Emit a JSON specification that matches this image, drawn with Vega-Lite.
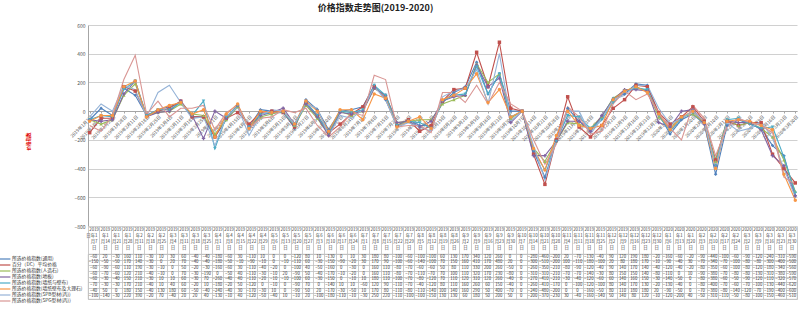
{
  "$schema": "https://vega.github.io/schema/vega-lite/v6.json",
  "autosize": {"type": "pad"},
  "padding": {"left": 2, "top": 4, "right": 0, "bottom": 0},
  "bounds": "flush",
  "spacing": 28,
  "title": {"text": "价格指数走势图(2019-2020)", "fontSize": 9, "fontWeight": "bold", "color": "#222", "anchor": "middle", "frame": "group", "dx": -67, "offset": 10, "font": "Noto Sans CJK SC"},
  "config": {"font": "Noto Sans CJK SC", "view": {"stroke": null}},
  "datasets": {
    "names": [
      {"key": "s1", "name": "所选价格指数(通用)"},
      {"key": "s2", "name": "百分（DC）平均价格"},
      {"key": "s3", "name": "所选价格指数(人造石)"},
      {"key": "s4", "name": "所选价格指数(地板)"},
      {"key": "s5", "name": "所选价格指数(墙纸与壁布)"},
      {"key": "s6", "name": "所选价格指数(墙纸壁布及大理石)"},
      {"key": "s7", "name": "所选价格指数(SPB型材(丙))"},
      {"key": "s8", "name": "所选价格指数(SPG型材(丙))"}
    ],
    "w": [
      {"d":"2019年1月7日","s1":-60,"s2":-150,"s3":-60,"s4":-60,"s5":-60,"s6":-70,"s7":-40,"s8":-100},
      {"d":"2019年1月14日","s1":20,"s2":-50,"s3":-90,"s4":-70,"s5":-30,"s6":-30,"s7":50,"s8":-140},
      {"d":"2019年1月21日","s1":-30,"s2":-50,"s3":-60,"s4":-60,"s5":-40,"s6":-30,"s7":0,"s8":-30},
      {"d":"2019年1月28日","s1":160,"s2":170,"s3":110,"s4":120,"s5":150,"s6":170,"s7":180,"s8":220},
      {"d":"2019年2月11日","s1":110,"s2":140,"s3":190,"s4":210,"s5":210,"s6":210,"s7":150,"s8":390},
      {"d":"2019年2月18日","s1":-30,"s2":-30,"s3":-30,"s4":-40,"s5":-30,"s6":-40,"s7":-40,"s8":-20},
      {"d":"2019年2月25日","s1":10,"s2":0,"s3":-10,"s4":-10,"s5":10,"s6":10,"s7":130,"s8":70},
      {"d":"2019年3月4日","s1":30,"s2":20,"s3":0,"s4":0,"s5":10,"s6":40,"s7":180,"s8":-40},
      {"d":"2019年3月11日","s1":60,"s2":70,"s3":50,"s4":70,"s5":60,"s6":60,"s7":60,"s8":20},
      {"d":"2019年3月18日","s1":-40,"s2":-40,"s3":-20,"s4":-30,"s5":-30,"s6":-20,"s7":-50,"s8":20},
      {"d":"2019年3月25日","s1":-40,"s2":-40,"s3":-30,"s4":-190,"s5":70,"s6":10,"s7":-40,"s8":40},
      {"d":"2019年4月1日","s1":-180,"s2":-180,"s3":-160,"s4":0,"s5":-260,"s6":-180,"s7":-240,"s8":-130},
      {"d":"2019年4月8日","s1":-60,"s2":-50,"s3":-60,"s4":-50,"s5":-40,"s6":-20,"s7":-40,"s8":-10},
      {"d":"2019年4月15日","s1":30,"s2":-10,"s3":30,"s4":40,"s5":40,"s6":50,"s7":30,"s8":40},
      {"d":"2019年4月22日","s1":-110,"s2":-90,"s3":-110,"s4":-110,"s5":-110,"s6":-120,"s7":-170,"s8":-120},
      {"d":"2019年4月29日","s1":10,"s2":-10,"s3":-40,"s4":-30,"s5":-20,"s6":0,"s7":-30,"s8":-50},
      {"d":"2019年5月6日","s1":0,"s2":0,"s3":-20,"s4":-10,"s5":-10,"s6":-10,"s7":10,"s8":-40},
      {"d":"2019年5月13日","s1":0,"s2":-10,"s3":0,"s4":20,"s5":-10,"s6":0,"s7":0,"s8":10},
      {"d":"2019年5月20日","s1":-120,"s2":-110,"s3":-100,"s4":-90,"s5":-100,"s6":-90,"s7":-90,"s8":-10},
      {"d":"2019年5月27日","s1":80,"s2":60,"s3":40,"s4":50,"s5":60,"s6":70,"s7":50,"s8":20},
      {"d":"2019年6月3日","s1":10,"s2":-30,"s3":-50,"s4":-40,"s5":-30,"s6":0,"s7":20,"s8":-100},
      {"d":"2019年6月10日","s1":-130,"s2":-150,"s3":-160,"s4":-170,"s5":-150,"s6":-140,"s7":-170,"s8":-180},
      {"d":"2019年6月17日","s1":0,"s2":-90,"s3":0,"s4":-10,"s5":0,"s6":10,"s7":-30,"s8":-110},
      {"d":"2019年6月24日","s1":10,"s2":-20,"s3":-30,"s4":-20,"s5":-10,"s6":10,"s7":-50,"s8":-10},
      {"d":"2019年7月1日","s1":30,"s2":30,"s3":0,"s4":0,"s5":10,"s6":-60,"s7":10,"s8":-30},
      {"d":"2019年7月8日","s1":180,"s2":170,"s3":160,"s4":160,"s5":180,"s6":120,"s7":170,"s8":250},
      {"d":"2019年7月15日","s1":80,"s2":90,"s3":110,"s4":110,"s5":110,"s6":90,"s7":80,"s8":220},
      {"d":"2019年7月22日","s1":-100,"s2":-100,"s3":-80,"s4":-80,"s5":-100,"s6":-110,"s7":-110,"s8":-110},
      {"d":"2019年7月29日","s1":-60,"s2":-60,"s3":-70,"s4":-70,"s5":-70,"s6":-70,"s7":-80,"s8":-100},
      {"d":"2019年8月5日","s1":-100,"s2":-140,"s3":-60,"s4":-110,"s5":-80,"s6":-40,"s7":-110,"s8":-100},
      {"d":"2019年8月12日","s1":-100,"s2":-100,"s3":-60,"s4":-70,"s5":-120,"s6":-120,"s7":-140,"s8":-150},
      {"d":"2019年8月19日","s1":60,"s2":70,"s3":50,"s4":70,"s5":70,"s6":80,"s7":100,"s8":130},
      {"d":"2019年8月26日","s1":130,"s2":150,"s3":80,"s4":100,"s5":110,"s6":110,"s7":140,"s8":130},
      {"d":"2019年9月2日","s1":170,"s2":160,"s3":110,"s4":110,"s5":120,"s6":160,"s7":160,"s8":60},
      {"d":"2019年9月9日","s1":340,"s2":410,"s3":330,"s4":320,"s5":310,"s6":260,"s7":290,"s8":180},
      {"d":"2019年9月16日","s1":120,"s2":170,"s3":200,"s4":170,"s5":120,"s6":60,"s7":50,"s8":50},
      {"d":"2019年9月23日","s1":260,"s2":480,"s3":260,"s4":230,"s5":260,"s6":150,"s7":400,"s8":200},
      {"d":"2019年9月30日","s1":0,"s2":20,"s3":-50,"s4":-80,"s5":-40,"s6":-40,"s7":-70,"s8":50},
      {"d":"2019年10月7日","s1":0,"s2":0,"s3":0,"s4":0,"s5":0,"s6":0,"s7":0,"s8":0},
      {"d":"2019年10月14日","s1":-280,"s2":-300,"s3":-260,"s4":-310,"s5":-270,"s6":-260,"s7":-240,"s8":-200},
      {"d":"2019年10月21日","s1":-460,"s2":-510,"s3":-350,"s4":-310,"s5":-410,"s6":-410,"s7":-480,"s8":-370},
      {"d":"2019年10月28日","s1":-200,"s2":-200,"s3":-210,"s4":-210,"s5":-210,"s6":-170,"s7":-200,"s8":-230},
      {"d":"2019年11月4日","s1":20,"s2":100,"s3":-80,"s4":-70,"s5":-30,"s6":0,"s7":0,"s8":30},
      {"d":"2019年11月11日","s1":-70,"s2":-110,"s3":-90,"s4":-70,"s5":-40,"s6":-100,"s7":0,"s8":-40},
      {"d":"2019年11月18日","s1":-130,"s2":-180,"s3":-120,"s4":-140,"s5":-120,"s6":-120,"s7":-160,"s8":-160},
      {"d":"2019年11月25日","s1":-40,"s2":-100,"s3":-40,"s4":-30,"s5":-60,"s6":-100,"s7":-50,"s8":-140},
      {"d":"2019年12月2日","s1":90,"s2":20,"s3":90,"s4":80,"s5":60,"s6":80,"s7":80,"s8":50},
      {"d":"2019年12月9日","s1":120,"s2":80,"s3":140,"s4":150,"s5":140,"s6":140,"s7":110,"s8":140},
      {"d":"2019年12月16日","s1":190,"s2":180,"s3":170,"s4":150,"s5":160,"s6":170,"s7":180,"s8":80},
      {"d":"2019年12月23日","s1":180,"s2":170,"s3":140,"s4":140,"s5":150,"s6":130,"s7":180,"s8":120},
      {"d":"2019年12月30日","s1":-20,"s2":-10,"s3":-40,"s4":-80,"s5":-30,"s6":-20,"s7":20,"s8":-10},
      {"d":"2020年1月6日","s1":-160,"s2":-90,"s3":-120,"s4":-110,"s5":-140,"s6":-130,"s7":-90,"s8":-120},
      {"d":"2020年1月13日","s1":-60,"s2":-40,"s3":-40,"s4":0,"s5":-50,"s6":-40,"s7":-50,"s8":-200},
      {"d":"2020年1月20日","s1":-20,"s2":30,"s3":-20,"s4":10,"s5":0,"s6":0,"s7":0,"s8":40},
      {"d":"2020年2月3日","s1":-90,"s2":-70,"s3":-80,"s4":-90,"s5":-80,"s6":-80,"s7":-70,"s8":-50},
      {"d":"2020年2月10日","s1":-440,"s2":-340,"s3":-350,"s4":-380,"s5":-380,"s6":-400,"s7":-380,"s8":-310},
      {"d":"2020年2月17日","s1":-100,"s2":-70,"s3":-60,"s4":-70,"s5":-60,"s6":-70,"s7":-80,"s8":-110},
      {"d":"2020年2月24日","s1":-60,"s2":-100,"s3":-100,"s4":-80,"s5":-50,"s6":-60,"s7":-140,"s8":-50},
      {"d":"2020年3月2日","s1":-90,"s2":-80,"s3":-80,"s4":-80,"s5":-90,"s6":-70,"s7":-120,"s8":-80},
      {"d":"2020年3月9日","s1":-120,"s2":-80,"s3":-120,"s4":-130,"s5":-120,"s6":-100,"s7":-70,"s8":-100},
      {"d":"2020年3月16日","s1":-240,"s2":-300,"s3":-180,"s4":-310,"s5":-110,"s6":-130,"s7":-190,"s8":-150},
      {"d":"2020年3月23日","s1":-310,"s2":-400,"s3":-340,"s4":-380,"s5":-320,"s6":-440,"s7":-400,"s8":-460},
      {"d":"2020年3月30日","s1":-590,"s2":-500,"s3":-560,"s4":-590,"s5":-570,"s6":-620,"s7":-600,"s8":-510}
    ]
  },
  "data": {"name": "w"},
  "transform": [
    {"fold": ["s1", "s2", "s3", "s4", "s5", "s6", "s7", "s8"], "as": ["key", "v"]},
    {"lookup": "key", "from": {"data": {"name": "names"}, "key": "key", "fields": ["name"]}}
  ],
  "vconcat": [
    {
      "width": 709,
      "height": 201,
      "encoding": {
        "x": {"field": "d", "type": "ordinal", "sort": null, "scale": {"type": "point", "padding": 0.15},
          "axis": {"title": null, "labelAngle": -45, "labelFontSize": 4.6, "labelColor": "#555", "offset": -115, "domainColor": "#A6A6A6", "tickColor": "#A6A6A6", "tickSize": 2, "labelOverlap": false, "labelPadding": 1, "grid": false}},
        "y": {"field": "v", "type": "quantitative", "scale": {"domain": [-800, 600], "nice": false},
          "axis": {"values": [-800, -600, -400, -200, 0, 200, 400, 600], "labelOverlap": false, "grid": true, "gridColor": "#C4C4C4", "gridWidth": 0.8, "domain": true, "domainColor": "#A6A6A6", "ticks": false, "labelFontSize": 5, "labelColor": "#555", "labelPadding": 3, "title": "价格指数", "titleColor": "#E00000", "titleFontSize": 4.5, "titleFontWeight": "bold", "titleX": -58, "titleY": 116}},
        "color": {"field": "name", "type": "nominal",
          "scale": {"domain": ["所选价格指数(通用)", "百分（DC）平均价格", "所选价格指数(人造石)", "所选价格指数(地板)", "所选价格指数(墙纸与壁布)", "所选价格指数(墙纸壁布及大理石)", "所选价格指数(SPB型材(丙))", "所选价格指数(SPG型材(丙))"],
            "range": ["#4F81BD", "#C0504D", "#9BBB59", "#8064A2", "#4BACC6", "#F79646", "#95B3D7", "#D99694"]},
          "legend": {"orient": "none", "legendX": -86, "legendY": 231, "title": null, "symbolType": "M-2.7,0H2.7", "symbolSize": 16, "symbolStrokeWidth": 1.2, "labelFontSize": 4.8, "labelColor": "#333", "labelLimit": 80, "rowPadding": -0.4, "labelOffset": 4, "padding": 0}}
      },
      "layer": [
        {
          "mark": {"type": "line", "strokeWidth": 1.1},
          "encoding": {"order": {"value": null}}
        },
        {
          "transform": [{"filter": {"field": "key", "oneOf": ["s1", "s2", "s3", "s4", "s5", "s6"]}}],
          "mark": {"type": "point", "filled": true, "size": 12, "opacity": 1},
          "encoding": {
            "shape": {"field": "key", "type": "nominal", "scale": {"domain": ["s1", "s2", "s3", "s4", "s5", "s6"], "range": ["diamond", "square", "triangle-up", "cross", "triangle-down", "circle"]}, "legend": null}
          }
        }
      ]
    },
    {
      "width": 709,
      "height": 45,
      "view": {"stroke": "#BFBFBF", "strokeWidth": 0.8},
      "mark": {"type": "text", "fontSize": 4.3, "color": "#333"},
      "encoding": {
        "x": {"field": "d", "type": "ordinal", "sort": null, "scale": {"type": "band", "paddingInner": 0, "paddingOuter": 0},
          "axis": {"orient": "top", "title": null, "labelAngle": 0, "labelExpr": "[substring(datum.label,0,4), substring(datum.label,4,indexof(datum.label,'月')), substring(datum.label,indexof(datum.label,'月'),length(datum.label)-1), '日']", "labelFontSize": 4.4, "labelLineHeight": 6.2, "labelColor": "#444", "labelBaseline": "top", "tickBand": "extent", "tickSize": 28, "tickColor": "#BFBFBF", "tickWidth": 0.8, "domainColor": "#BFBFBF", "domainWidth": 0.8, "grid": true, "gridColor": "#BFBFBF", "gridWidth": 0.8, "labelPadding": -1, "labelOverlap": false}},
        "y": {"field": "name", "type": "nominal", "sort": ["所选价格指数(通用)", "百分（DC）平均价格", "所选价格指数(人造石)", "所选价格指数(地板)", "所选价格指数(墙纸与壁布)", "所选价格指数(墙纸壁布及大理石)", "所选价格指数(SPB型材(丙))", "所选价格指数(SPG型材(丙))"],
          "scale": {"type": "band", "paddingInner": 0, "paddingOuter": 0},
          "axis": {"title": null, "labels": false, "ticks": false, "domain": false, "grid": true, "gridColor": "#BFBFBF", "gridWidth": 0.8, "tickBand": "extent"}},
        "text": {"field": "v", "type": "quantitative", "format": "d"}
      }
    }
  ]
}
